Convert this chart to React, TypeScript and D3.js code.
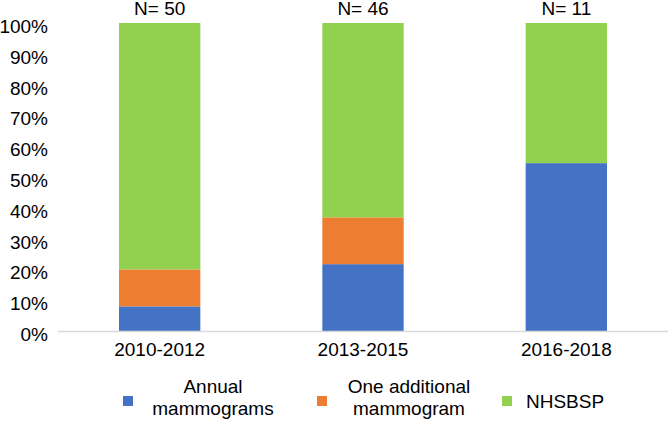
import React from "react";
import * as d3 from "d3";

const categories = ["2010-2012", "2013-2015", "2016-2018"];
const nLabels = ["N= 50", "N= 46", "N= 11"];
const annual = [8, 21.7, 54.5];
const oneAdditional = [12, 15.2, 0];
const nhsbsp = [80, 63.1, 45.5];
const seriesNames = ["Annual mammograms", "One additional mammogram", "NHSBSP"];
const seriesColors = ["#4472C4", "#ED7D31", "#92D050"];
const yTicks = [0, 10, 20, 30, 40, 50, 60, 70, 80, 90, 100];

const W = 668;
const H = 421;
const FONT = "'Liberation Sans', Arial, sans-serif";

export default function App() {
  const x = d3.scaleBand<string>().domain(categories).range([58, 668]).paddingInner(0.6).paddingOuter(0.3);
  const y = d3.scaleLinear().domain([0, 100]).range([331, 23]);

  const rows = categories.map((c, i) => ({
    cat: c,
    annual: annual[i],
    one: oneAdditional[i],
    nhs: nhsbsp[i],
  }));
  const keys = ["annual", "one", "nhs"];
  const stacked = d3.stack<any>().keys(keys).offset(d3.stackOffsetExpand)(rows);

  const legendItems = [
    { sx: 123, lines: ["Annual", "mammograms"], tx: 213, anchor: "middle" },
    { sx: 317, lines: ["One additional", "mammogram"], tx: 409, anchor: "middle" },
    { sx: 502, lines: ["NHSBSP"], tx: 526, anchor: "start" },
  ];

  return (
    <svg width={W} height={H} style={{ position: "absolute", left: 0, top: 0 }} fontFamily={FONT}>
      <rect width={W} height={H} fill="#fff" />
      {stacked.map((layer, si) =>
        layer.map((d, i) => (
          <rect
            key={si + "-" + i}
            x={x(categories[i])}
            width={x.bandwidth()}
            y={y(d[1] * 100)}
            height={Math.max(0, y(d[0] * 100) - y(d[1] * 100))}
            fill={seriesColors[si]}
          />
        ))
      )}
      <line x1={58} x2={668} y1={331.5} y2={331.5} stroke="#D9D9D9" strokeWidth={1.5} />
      {yTicks.map((t) => (
        <text key={t} x={48} y={y(t)} dy={10} textAnchor="end" fontSize={19} fill="#000">
          {t}%
        </text>
      ))}
      {categories.map((c, i) => (
        <g key={c}>
          <text x={x(c)! + x.bandwidth() / 2} y={356} textAnchor="middle" fontSize={19} fill="#000">
            {c}
          </text>
          <text x={x(c)! + x.bandwidth() / 2} y={15} textAnchor="middle" fontSize={19} fill="#000">
            {nLabels[i]}
          </text>
        </g>
      ))}
      {legendItems.map((it, i) => (
        <g key={seriesNames[i]}>
          <rect x={it.sx} y={396} width={10} height={10} fill={seriesColors[i]} />
          {it.lines.length === 2 ? (
            <>
              <text x={it.tx} y={393} textAnchor="middle" fontSize={19} fill="#000">{it.lines[0]}</text>
              <text x={it.tx} y={415} textAnchor="middle" fontSize={19} fill="#000">{it.lines[1]}</text>
            </>
          ) : (
            <text x={it.tx} y={408} textAnchor="start" fontSize={19} fill="#000">{it.lines[0]}</text>
          )}
        </g>
      ))}
    </svg>
  );
}
